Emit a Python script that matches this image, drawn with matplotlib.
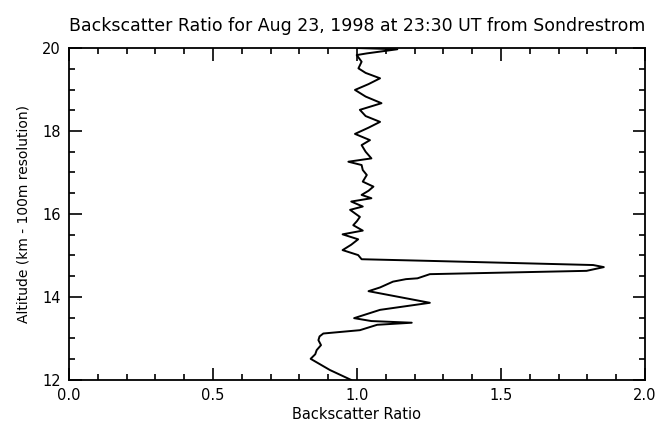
import matplotlib
matplotlib.use("Agg")
import matplotlib.pyplot as plt
from matplotlib.ticker import MultipleLocator

# altitude (km) and backscatter ratio
altitude = [12.00, 12.24, 12.51, 12.62, 12.72, 12.84, 12.96, 13.05, 13.12, 13.20,
            13.33, 13.38, 13.42, 13.49, 13.69, 13.86, 14.14, 14.23, 14.37, 14.43,
            14.45, 14.55, 14.63, 14.72, 14.77, 14.87, 14.91, 15.01, 15.13, 15.26,
            15.39, 15.51, 15.60, 15.73, 15.83, 15.93, 16.10, 16.18, 16.30, 16.38,
            16.46, 16.56, 16.66, 16.78, 16.94, 17.06, 17.18, 17.26, 17.34, 17.50,
            17.66, 17.78, 17.93, 18.08, 18.22, 18.36, 18.51, 18.67, 18.83, 18.99,
            19.13, 19.27, 19.40, 19.51, 19.67, 19.83, 19.87, 19.97, 20.00]
ratio = [0.98, 0.906, 0.839, 0.855, 0.86, 0.875, 0.866, 0.870, 0.883, 1.01,
         1.07, 1.19, 1.05, 0.99, 1.08, 1.253, 1.04, 1.08, 1.125, 1.17,
         1.21, 1.253, 1.797, 1.857, 1.82, 1.253, 1.016, 1.004, 0.95, 0.98,
         1.004, 0.95, 1.02, 0.987, 1.00, 1.01, 0.976, 1.02, 0.98, 1.05,
         1.016, 1.04, 1.057, 1.02, 1.034, 1.02, 1.016, 0.97, 1.05, 1.03,
         1.016, 1.045, 0.993, 1.04, 1.08, 1.03, 1.01, 1.085, 1.03, 0.993,
         1.04, 1.08, 1.03, 1.005, 1.016, 0.999, 1.034, 1.14, 1.00]

x_ticks = [0.0, 0.5, 1.0, 1.5, 2.0]
y_ticks = [12, 14, 16, 18, 20]

plt.rcParams['font.family'] = ['DejaVu Sans']

fig = plt.figure(figsize=(6.64, 4.23), dpi=100)
ax = fig.add_axes([0.1039, 0.1017, 0.8675, 0.7848])

ax.plot(ratio, altitude, color='black', linewidth=1.4)

ax.set_xlim(0, 2)
ax.set_ylim(12, 20)
ax.set_xticks(x_ticks)
ax.set_xticklabels(["%.1f" % v for v in x_ticks])
ax.set_yticks(y_ticks)
ax.xaxis.set_minor_locator(MultipleLocator(0.1))
ax.yaxis.set_minor_locator(MultipleLocator(0.5))
ax.tick_params(which='both', direction='in', top=True, right=True,
               width=1.2, labelsize=10.5, pad=6)
ax.tick_params(which='major', length=9)
ax.tick_params(which='minor', length=4.5)
for s in ax.spines.values():
    s.set_linewidth(1.3)

ax.set_title("Backscatter Ratio for Aug 23, 1998 at 23:30 UT from Sondrestrom",
             fontsize=12.5, pad=12)
ax.set_xlabel("Backscatter Ratio", fontsize=10.5, labelpad=3)
ax.set_ylabel("Altitude (km - 100m resolution)", fontsize=10, labelpad=8)

fig.savefig("out.png", dpi=100)
